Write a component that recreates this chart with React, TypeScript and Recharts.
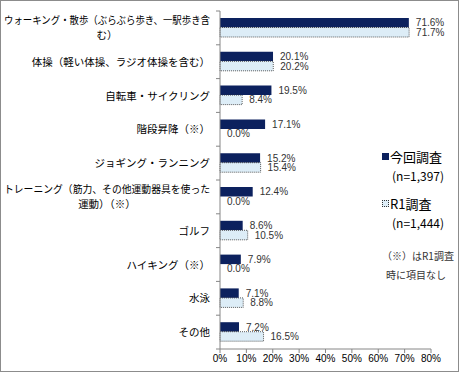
import React from "react";
import { BarChart, Bar, XAxis, YAxis, LabelList, Cell } from "recharts";

const categories = [
  ["ウォーキング・散歩（ぶらぶら歩き、一駅歩き含", "む）"],
  ["体操（軽い体操、ラジオ体操を含む）"],
  ["自転車・サイクリング"],
  ["階段昇降（※）"],
  ["ジョギング・ランニング"],
  ["トレーニング（筋力、その他運動器具を使った", "運動）（※）"],
  ["ゴルフ"],
  ["ハイキング（※）"],
  ["水泳"],
  ["その他"],
];
const currentValues = [71.6, 20.1, 19.5, 17.1, 15.2, 12.4, 8.6, 7.9, 7.1, 7.2];
const r1Values = [71.7, 20.2, 8.4, 0.0, 15.4, 0.0, 10.5, 0.0, 8.8, 16.5];
const xTicks = [0, 10, 20, 30, 40, 50, 60, 70, 80];

const W = 459;
const H = 372;
const TOP = 11;
const BOTTOM = 23;
const AXIS_W = 219;
const band = (H - TOP - BOTTOM) / categories.length;

const data = categories.map((lines, i) => ({
  name: lines.join(""),
  current: currentValues[i],
  r1: r1Values[i],
}));

const jpFont = "'Noto Sans CJK JP', sans-serif";
const numFont = "'Liberation Sans', Arial, sans-serif";

const CategoryTick = (props: any) => {
  const { y, index } = props;
  const lines = categories[index];
  const multi = lines.length > 1;
  return (
    <g>
      <line x1={AXIS_W - 4} x2={AXIS_W} y1={y - band / 2} y2={y - band / 2} stroke="#868686" />
      {index === categories.length - 1 && (
        <line x1={AXIS_W - 4} x2={AXIS_W} y1={y + band / 2} y2={y + band / 2} stroke="#868686" />
      )}
      {lines.map((t: string, i: number) => (
        <text
          key={i}
          x={multi ? AXIS_W - 113 : AXIS_W - 10}
          y={y + (i - (lines.length - 1) / 2) * 15 + 4}
          textAnchor={multi ? "middle" : "end"}
          fontSize={10.5}
          fontFamily={jpFont}
          fill="#000"
          {...(multi && i === 0 ? { textLength: 206, lengthAdjust: "spacingAndGlyphs" } : {})}
        >
          {t}
        </text>
      ))}
    </g>
  );
};

const pct = (v: any) => `${Number(v).toFixed(1)}%`;

export default function App() {
  return (
    <div
      style={{
        position: "absolute",
        left: 0,
        top: 0,
        width: W,
        height: H,
        border: "1px solid #8c8c8c",
        boxSizing: "border-box",
        background: "#fff",
      }}
    >
      <BarChart
        width={W - 2}
        height={H - 2}
        data={data}
        layout="vertical"
        margin={{ top: TOP - 1, right: 27, left: 0, bottom: 0 }}
        barGap={0}
        barSize={9.5}
      >
        <XAxis
          type="number"
          domain={[0, 80]}
          ticks={xTicks}
          tickFormatter={(v) => `${v}%`}
          stroke="#868686"
          tickSize={4}
          height={BOTTOM - 1}
          tick={{ fontSize: 10, fontFamily: numFont, fill: "#000" }}
          interval={0}
        />
        <YAxis
          type="category"
          dataKey="name"
          width={AXIS_W}
          stroke="#868686"
          tickLine={false}
          tick={<CategoryTick />}
          interval={0}
        />
        <Bar dataKey="current" fill="#0C215E" isAnimationActive={false}>
          <LabelList
            dataKey="current"
            position="right"
            offset={7}
            formatter={pct}
            style={{ fontSize: 10, fontFamily: numFont, fill: "#333" }}
          />
        </Bar>
        <Bar
          dataKey="r1"
          fill="#DDEDF7"
          stroke="#333"
          strokeWidth={0.8}
          strokeDasharray="1 1"
          minPointSize={0.01}
          isAnimationActive={false}
        >
          {r1Values.map((v, i) => (
            <Cell key={i} stroke={v === 0 ? "none" : "#333"} />
          ))}
          <LabelList
            dataKey="r1"
            position="right"
            offset={7}
            formatter={pct}
            style={{ fontSize: 10, fontFamily: numFont, fill: "#333" }}
          />
        </Bar>
      </BarChart>
      <div
        style={{
          position: "absolute",
          left: 381,
          top: 149,
          fontFamily: jpFont,
          color: "#000",
          lineHeight: 1,
        }}
      >
        <div style={{ display: "flex", alignItems: "center", fontSize: 13 }}>
          <span style={{ width: 7, height: 7, background: "#0C215E", marginRight: 1 }} />
          今回調査
        </div>
        <div style={{ fontSize: 12, marginLeft: 10, marginTop: 7 }}>(n=1,397)</div>
        <div style={{ display: "flex", alignItems: "center", fontSize: 13, marginTop: 15 }}>
          <span
            style={{
              width: 5,
              height: 5,
              background: "#DDEDF7",
              border: "1px dotted #333",
              marginRight: 1,
            }}
          />
          R1調査
        </div>
        <div style={{ fontSize: 12, marginLeft: 10, marginTop: 7 }}>(n=1,444)</div>
        <div style={{ fontSize: 10, marginTop: 22, color: "#333" }}>（※）はR1調査</div>
        <div style={{ fontSize: 10, marginTop: 9, marginLeft: 4, color: "#333" }}>時に項目なし</div>
      </div>
    </div>
  );
}
